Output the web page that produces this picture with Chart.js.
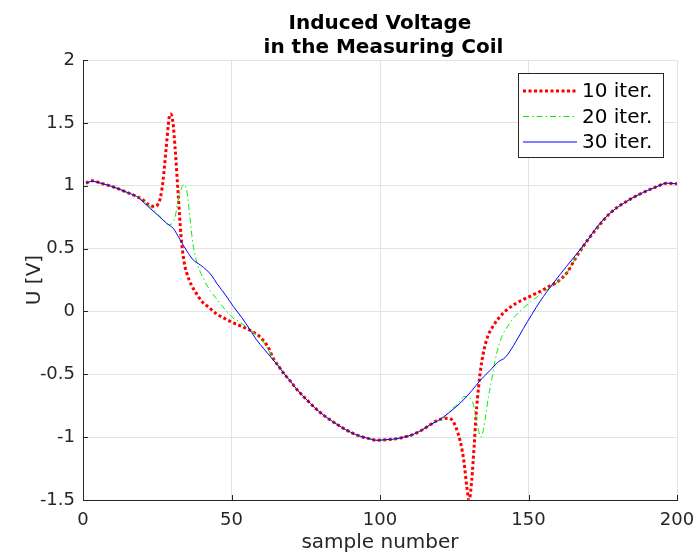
<!DOCTYPE html>
<html>
<head>
<meta charset="utf-8">
<script src="https://cdn.jsdelivr.net/npm/chart.js@4.4.1/dist/chart.umd.min.js"></script>
<style>
html,body{margin:0;padding:0;background:#fff;}
#wrap{width:694px;height:557px;}
</style>
</head>
<body>
<div id="wrap"><canvas id="c" width="694" height="557"></canvas></div>
<script>
const chartTitle = ['Induced Voltage', ' in the Measuring Coil'];
const xTitle = 'sample number';
const yTitle = 'U [V]';
const seriesLabels = ['10 iter.', '20 iter.', '30 iter.'];
const yTickLabels = {'2':'2','1.5':'1.5','1':'1','0.5':'0.5','0':'0','-0.5':'-0.5','-1':'-1','-1.5':'-1.5'};

const x10 = [1,3,6,9,12,15,18,20,22,24,25,26,27,28,29,29.5,30.3,31,32,33,34,35,36.5,38,40,42.5,45,48,51,54,57,59.5,61,62.5,64,66,67.5,70,72,75,78,81,84,87,90,93,96,99,102,105,108,111,114,117,119,121,123,124.5,125.5,127,128.3,129.2,130,130.9,131.7,132.4,133.2,134.2,135.9,138,141.5,146,150.5,154,157,159.5,161,163,166,168.5,170,173,177.4,183,188.7,193,196.5,200];
const y10 = [1.02,1.04,1.02,1.0,0.975,0.945,0.915,0.89,0.85,0.835,0.845,0.9,1.05,1.3,1.54,1.57,1.5,1.3,0.95,0.6,0.4,0.3,0.21,0.15,0.08,0.03,-0.02,-0.06,-0.095,-0.125,-0.16,-0.2,-0.24,-0.29,-0.37,-0.44,-0.49,-0.56,-0.62,-0.695,-0.765,-0.825,-0.875,-0.92,-0.96,-0.99,-1.01,-1.025,-1.02,-1.015,-1.0,-0.98,-0.945,-0.9,-0.87,-0.855,-0.85,-0.87,-0.92,-1.03,-1.2,-1.39,-1.5,-1.34,-1.07,-0.81,-0.6,-0.41,-0.225,-0.12,-0.013,0.067,0.12,0.16,0.2,0.23,0.26,0.31,0.43,0.52,0.57,0.66,0.78,0.875,0.947,0.99,1.02,1.015];

const x20 = [1,3,6,9,12,15,18,21,24,27,29,30,31,32,33,34,35,36,37,38,39.4,41,43,45,47,50,53,56,58.5,61,64,66,67.5,70,72,75,78,81,84,87,90,93,96,99,102,105,108,111,114,117,119,121,123,126,128.6,130,131,132,133,134,135,135.4,136.5,137.5,138.5,140.4,143.8,148.3,153.9,158.5,161,163,166,168.5,170,173,177.4,183,188.7,193,196.5,200];
const y20 = [1.02,1.035,1.02,1.0,0.975,0.945,0.915,0.87,0.8,0.73,0.69,0.7,0.75,0.88,0.97,1.01,0.95,0.75,0.54,0.42,0.32,0.24,0.16,0.1,0.04,-0.04,-0.09,-0.14,-0.19,-0.25,-0.37,-0.44,-0.49,-0.56,-0.62,-0.695,-0.765,-0.825,-0.875,-0.92,-0.96,-0.99,-1.01,-1.025,-1.02,-1.015,-1.0,-0.98,-0.945,-0.9,-0.875,-0.86,-0.8,-0.74,-0.676,-0.69,-0.71,-0.8,-0.93,-1.0,-0.92,-0.86,-0.68,-0.56,-0.42,-0.24,-0.09,0.027,0.133,0.21,0.26,0.31,0.43,0.52,0.57,0.66,0.78,0.875,0.947,0.99,1.02,1.015];

const x30 = [1,3,6,9,12,15,18,20.5,22.6,25,28.2,30.4,32.7,35,37.1,39.5,41.6,43.5,45,48,50.6,53.5,56.2,58.4,61,64,66,67.5,70,72,75,78,81,84,87,90,93,96,99,102,105,108,111,114,117,120.2,123.5,127,130.9,133.7,137,139.9,142.2,145,148.3,153.9,158.4,162.8,167.3,170.1,173,177.4,183,188.7,193,196.5,200];
const y30 = [1.02,1.035,1.02,1.0,0.975,0.945,0.915,0.865,0.82,0.77,0.7,0.66,0.57,0.48,0.41,0.37,0.33,0.28,0.225,0.13,0.04,-0.05,-0.145,-0.225,-0.3,-0.385,-0.44,-0.49,-0.56,-0.62,-0.695,-0.765,-0.825,-0.875,-0.92,-0.96,-0.99,-1.01,-1.025,-1.02,-1.015,-1.0,-0.98,-0.945,-0.9,-0.86,-0.8,-0.73,-0.63,-0.55,-0.47,-0.4,-0.365,-0.27,-0.135,0.08,0.226,0.358,0.49,0.575,0.67,0.78,0.875,0.947,0.99,1.02,1.015];

function pts(xs, ys){ return xs.map((x,i)=>({x:x, y:ys[i]})); }

const FONT = "'DejaVu Sans', 'Liberation Sans', sans-serif";
const AX = '#262626';

const tickPlugin = {
  id: 'inTicks',
  afterDraw(chart){
    const ctx = chart.ctx, a = chart.chartArea;
    const xs = chart.scales.x, ys = chart.scales.y;
    ctx.save();
    ctx.strokeStyle = AX; ctx.lineWidth = 1;
    ctx.beginPath();
    xs.ticks.forEach(t=>{ const p = Math.round(xs.getPixelForValue(t.value))+0.5; ctx.moveTo(p, a.bottom); ctx.lineTo(p, a.bottom-5); });
    ys.ticks.forEach(t=>{ const p = Math.round(ys.getPixelForValue(t.value))+0.5; ctx.moveTo(a.left, p); ctx.lineTo(a.left+5, p); });
    ctx.stroke();
    ctx.restore();
  }
};

const legendPlugin = {
  id: 'boxLegend',
  afterDraw(chart){
    const ctx = chart.ctx, a = chart.chartArea;
    const bx = a.right - 159, by = a.top + 13, bw = 145, bh = 84;
    ctx.save();
    ctx.fillStyle = '#ffffff';
    ctx.fillRect(bx, by, bw, bh);
    ctx.strokeStyle = '#262626'; ctx.lineWidth = 1;
    ctx.strokeRect(Math.round(bx)+0.5, Math.round(by)+0.5, bw, bh);
    const ds = chart.data.datasets;
    ctx.font = '20px ' + FONT;
    ctx.textBaseline = 'middle';
    ctx.textAlign = 'left';
    ds.forEach((d,i)=>{
      const y = by + 18 + i*25.5;
      ctx.beginPath();
      ctx.setLineDash(d.borderDash || []);
      ctx.lineWidth = d.borderWidth;
      ctx.strokeStyle = d.borderColor;
      ctx.moveTo(bx+5, y); ctx.lineTo(bx+59, y);
      ctx.stroke();
      ctx.setLineDash([]);
      ctx.fillStyle = '#000000';
      ctx.fillText(d.label, bx+64, y+1);
    });
    ctx.restore();
  }
};

new Chart(document.getElementById('c'), {
  type: 'line',
  data: {
    datasets: [
      {label: seriesLabels[0], data: pts(x10,y10), borderColor:'#ff0000', borderWidth:3, borderDash:[3,2.5], pointRadius:0, fill:false, cubicInterpolationMode:'monotone', order:2},
      {label: seriesLabels[1], data: pts(x20,y20), borderColor:'#00ee00', borderWidth:1, borderDash:[6,3,1.5,3], pointRadius:0, fill:false, cubicInterpolationMode:'monotone', order:1},
      {label: seriesLabels[2], data: pts(x30,y30), borderColor:'#0000ff', borderWidth:1, pointRadius:0, fill:false, cubicInterpolationMode:'monotone', order:0}
    ]
  },
  options: {
    responsive: false,
    animation: false,
    events: [],
    layout: {padding: {left:0, right:17, top:0, bottom:0}},
    plugins: {
      legend: {display:false},
      tooltip: {enabled:false},
      title: {display:true, text: chartTitle, fullSize:false, color:'#000000', font:{family:FONT, size:20, weight:'bold', lineHeight:1.2}, padding:{top:12, bottom:0}}
    },
    scales: {
      x: {
        type:'linear', min:0, max:200,
        afterFit(s){ s.height = 57; s.paddingLeft = 0; s.paddingRight = 0; },
        ticks:{stepSize:50, color:AX, font:{family:FONT, size:18}, padding:10, maxRotation:0},
        grid:{color:'#e3e3e3', drawTicks:false},
        border:{display:true, color:AX, width:1},
        title:{display:true, text:xTitle, color:AX, font:{family:FONT, size:20}, padding:{top:0, bottom:2}}
      },
      y: {
        type:'linear', min:-1.5, max:2,
        afterFit(s){ s.width = 83; s.paddingTop = 0; s.paddingBottom = 0; },
        ticks:{stepSize:0.5, color:AX, font:{family:FONT, size:18}, padding:8, callback:(v)=> yTickLabels[String(v)] ?? String(v)},
        grid:{color:'#e3e3e3', drawTicks:false},
        border:{display:true, color:AX, width:1},
        title:{display:true, text:yTitle, color:AX, font:{family:FONT, size:20}, padding:{top:23, bottom:0}}
      }
    }
  },
  plugins:[tickPlugin, legendPlugin]
});
</script>
</body>
</html>
